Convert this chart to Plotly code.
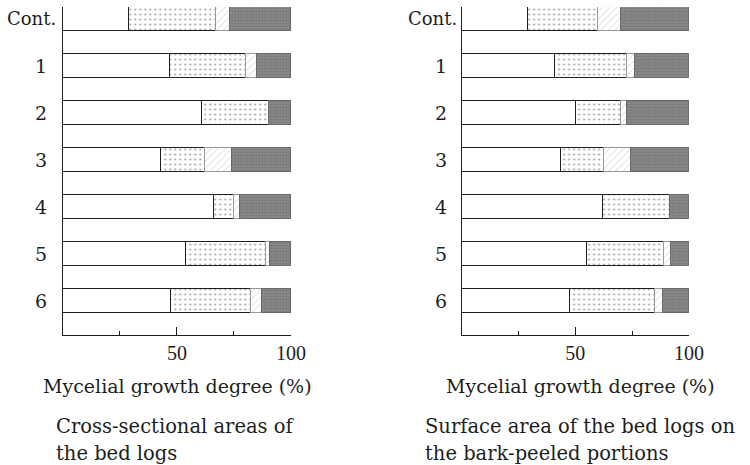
import plotly.graph_objects as go

# Treatment labels, top to bottom
categories = ["Cont.", "1", "2", "3", "4", "5", "6"]

# Share of each growth class (%) per treatment — cross-sectional areas
cross_blank = [29, 47, 61, 43, 66, 54, 47.5]
cross_dotted = [38, 33, 29, 19, 9, 35, 35]
cross_hatched = [6, 5, 0, 12, 2.5, 1.5, 4.5]
cross_shaded = [27, 15, 10, 26, 22.5, 9.5, 13]

# Share of each growth class (%) per treatment — bark-peeled surface
surf_blank = [29, 41, 50, 43.5, 62, 55, 47.5]
surf_dotted = [31, 31.5, 20, 19, 29.5, 34, 37.5]
surf_hatched = [10, 3.5, 2.5, 12, 0, 3, 3.5]
surf_shaded = [30, 24, 27.5, 25.5, 8.5, 8, 11.5]

x_tick_vals = [50, 100]
x_tick_text = ["50", "100"]
x_minor_vals = [25, 75]

axis_title = "Mycelial growth degree (%)"
captions_left = ["Cross-sectional areas of", "the bed logs"]
captions_right = ["Surface area of the bed logs on", "the bark-peeled portions"]

FONT = "DejaVu Serif"
NUM_FONT = "Liberation Serif"
INK = "#1e1e1e"
W, H = 750, 465
ypos = list(range(len(categories)))

styles = [
    dict(color="white", line=dict(color=INK, width=1)),
    dict(color="white", line=dict(color=INK, width=1),
         pattern=dict(shape=".", size=5, solidity=0.12, fgcolor="#333", bgcolor="white")),
    dict(color="white", line=dict(color="#999", width=1),
         pattern=dict(shape="/", size=5, solidity=0.15, fgcolor="#999", bgcolor="white")),
    dict(color="#7a7a7a", line=dict(color="#6a6a6a", width=1),
         pattern=dict(shape=".", size=3, solidity=0.35, fgcolor="#5c5c5c", bgcolor="#8a8a8a")),
]
names = ["blank", "dotted", "hatched", "shaded"]

fig = go.Figure()
panels = [
    ("x", "y", [cross_blank, cross_dotted, cross_hatched, cross_shaded]),
    ("x2", "y2", [surf_blank, surf_dotted, surf_hatched, surf_shaded]),
]
for xa, ya, series in panels:
    for name, vals, st in zip(names, series, styles):
        fig.add_trace(go.Bar(
            x=vals, y=ypos, orientation="h", width=0.51, name=name,
            marker=st, xaxis=xa, yaxis=ya, showlegend=False,
            hoverinfo="skip",
        ))

def px_x(p):
    return p / W

def px_y(p):
    return 1 - p / H

xdom_left = [px_x(64), px_x(297)]
xdom_right = [px_x(471), px_x(703)]
ydom = [px_y(335), px_y(7)]

xax = dict(
    range=[0, 100], showline=True, linecolor=INK, linewidth=1.2,
    showgrid=False, zeroline=False, ticks="inside", ticklen=8, tickwidth=1,
    tickcolor=INK, tickvals=x_tick_vals, ticktext=x_tick_text,
    tickfont=dict(family=NUM_FONT, size=20, color=INK),
    minor=dict(tickvals=x_minor_vals, ticks="inside", ticklen=4, tickcolor=INK),
    fixedrange=True,
)
yax = dict(
    range=[6.72, -0.255], showline=True, linecolor=INK, linewidth=1.2,
    showgrid=False, zeroline=False, showticklabels=False, ticks="",
    domain=ydom, fixedrange=True,
)

fig.update_layout(
    width=W, height=H, margin=dict(l=0, r=0, t=0, b=0),
    paper_bgcolor="white", plot_bgcolor="white", barmode="stack", bargap=0,
    xaxis=dict(xax, domain=xdom_left, anchor="y"),
    yaxis=dict(yax, anchor="x"),
    xaxis2=dict(xax, domain=xdom_right, anchor="y2"),
    yaxis2=dict(yax, anchor="x2"),
)

ann = []
# treatment labels beside each bar
for ya, num_x, cont_x in [("y", 42, 59), ("y2", 450, 468)]:
    for i, lab in enumerate(categories):
        if lab == "Cont.":
            ann.append(dict(x=px_x(cont_x), y=i, xref="paper", yref=ya, text=lab,
                            xanchor="right", yanchor="middle", showarrow=False,
                            font=dict(family=FONT, size=18, color=INK)))
        else:
            ann.append(dict(x=px_x(num_x), y=i, xref="paper", yref=ya, text=lab,
                            xanchor="center", yanchor="middle", showarrow=False,
                            font=dict(family=FONT, size=19, color=INK)))

# axis titles
for cx in (181, 592):
    ann.append(dict(x=px_x(cx), y=px_y(386), xref="paper", yref="paper",
                    text=axis_title, xanchor="center", yanchor="middle",
                    showarrow=False, font=dict(family=FONT, size=19, color=INK)))

# panel captions
for lx, lines in [(55, captions_left), (432, captions_right)]:
    for k, line in enumerate(lines):
        ann.append(dict(x=px_x(lx), y=px_y(426 + 27 * k), xref="paper", yref="paper",
                        text=line, xanchor="left", yanchor="middle",
                        showarrow=False, font=dict(family=FONT, size=19.5, color=INK)))

fig.update_layout(annotations=ann)
fig.write_html("out.html")
